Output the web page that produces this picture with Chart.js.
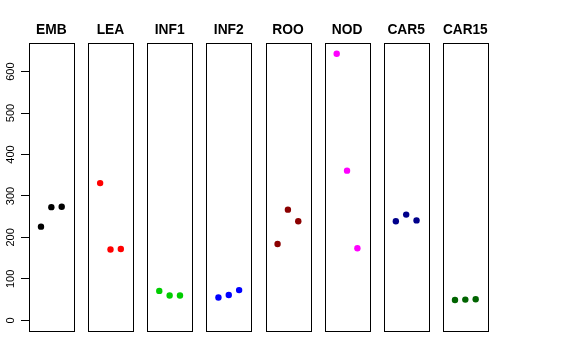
<!DOCTYPE html>
<html>
<head>
<meta charset="utf-8">
<script src="https://cdn.jsdelivr.net/npm/chart.js@4"></script>
<style>
    body { margin: 0; background: #fff; }
    #wrap { position: relative; width: 576px; height: 360px; }
    #wrap canvas { position: absolute; left: 0; top: 0; }
</style>
</head>
<body>
<div id="wrap"></div>
<script>
// Panel data
const panelNames = ['EMB', 'LEA', 'INF1', 'INF2', 'ROO', 'NOD', 'CAR5', 'CAR15'];
const panelColors = ['#000000', '#FF0000', '#00CD00', '#0000FF', '#8B0000', '#FF00FF', '#00008B', '#006400'];
const xPositions = [1, 2, 3];
const embValues = [226, 273, 274];
const leaValues = [331, 171, 172];
const inf1Values = [71, 60, 60];
const inf2Values = [55, 61, 73];
const rooValues = [184, 267, 239];
const nodValues = [643, 361, 174];
const car5Values = [239, 255, 241];
const car15Values = [49, 50, 51];
const yTicks = [0, 100, 200, 300, 400, 500, 600];

const panelValues = [embValues, leaValues, inf1Values, inf2Values, rooValues, nodValues, car5Values, car15Values];

// Layout of the panel boxes
const W = 576, H = 360;
const firstLeft = 29, panelStep = 59.14, panelWidth = 44.7;
const boxTop = 43, boxBottom = 331;

// Draw the box round each panel
const boxPlugin = {
    id: 'box',
    afterDraw(chart) {
        const a = chart.chartArea;
        const ctx = chart.ctx;
        ctx.save();
        ctx.strokeStyle = '#000';
        ctx.lineWidth = 1;
        ctx.strokeRect(Math.round(a.left) + 0.5, Math.round(a.top) + 0.5,
            Math.round(a.width), Math.round(a.height));
        ctx.restore();
    }
};

const wrap = document.getElementById('wrap');

panelNames.forEach((name, i) => {
    const canvas = document.createElement('canvas');
    canvas.width = W;
    canvas.height = H;
    wrap.appendChild(canvas);

    const left = firstLeft + i * panelStep;
    const isFirst = i === 0;

    const yScale = {
        type: 'linear',
        display: isFirst,
        min: -25.7,
        max: 668.9,
        afterBuildTicks: s => { s.ticks = yTicks.map(v => ({ value: v })); },
        grid: { drawOnChartArea: false, tickLength: 8, color: '#000' },
        border: { display: true, color: '#000' },
        ticks: {
            color: '#000',
            minRotation: 90,
            maxRotation: 90,
            crossAlign: 'center',
            padding: 1,
            font: { family: 'Liberation Sans, Arial, sans-serif', size: 11 }
        }
    };
    if (isFirst) {
        yScale.afterFit = s => { s.width = firstLeft; };
    }

    new Chart(canvas, {
        type: 'scatter',
        data: {
            datasets: [{
                data: xPositions.map((x, j) => ({ x: x, y: panelValues[i][j] })),
                backgroundColor: panelColors[i],
                borderColor: panelColors[i],
                pointRadius: 3.2,
                pointHoverRadius: 3.2,
                borderWidth: 0
            }]
        },
        options: {
            responsive: false,
            animation: false,
            events: [],
            layout: {
                padding: {
                    left: isFirst ? 0 : left,
                    right: W - left - panelWidth,
                    top: 0,
                    bottom: H - boxBottom
                }
            },
            plugins: {
                legend: { display: false },
                tooltip: { enabled: false },
                title: {
                    display: true,
                    text: name,
                    fullSize: false,
                    color: '#000',
                    font: { family: 'Liberation Sans, Arial, sans-serif', size: 13.8, weight: 'bold', lineHeight: 1.2 },
                    padding: { top: 22, bottom: boxTop - 22 - 13.8 * 1.2 }
                }
            },
            scales: {
                x: {
                    type: 'linear',
                    display: false,
                    min: -0.16,
                    max: 4.16
                },
                y: yScale
            }
        },
        plugins: [boxPlugin]
    });
});
</script>
</body>
</html>
